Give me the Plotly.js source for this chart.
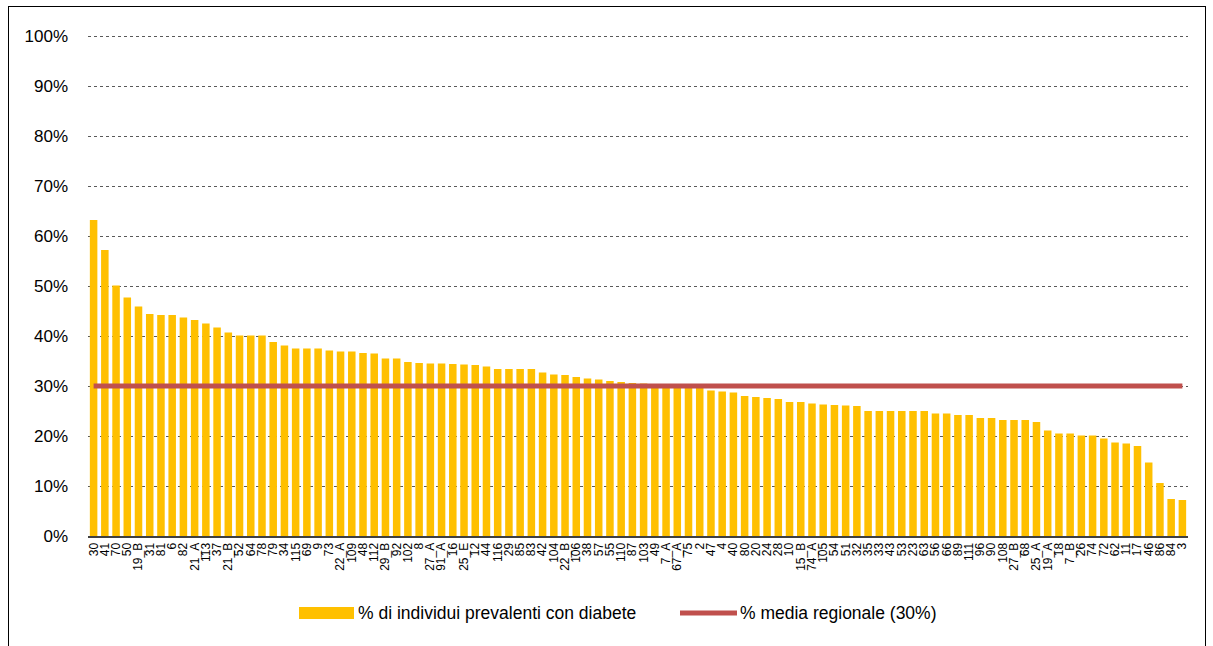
<!DOCTYPE html>
<html>
<head>
<meta charset="utf-8">
<script src="https://cdn.plot.ly/plotly-3.0.1.min.js"></script>
<style>
  html, body { margin: 0; padding: 0; background: #fff; }
  #chart { width: 1213px; height: 646px; }
  #frame { position: absolute; left: 8px; top: 6px; width: 1196px; height: 660px;
           border: 1px solid #000; pointer-events: none; }
</style>
</head>
<body>
<div id="chart"></div>
<div id="frame"></div>
<script>
const distretti = ["30","41","70","50","19_B","31","81","6","82","21_A",
  "113","37","21_B","52","64","78","79","34","115","69",
  "9","73","22_A","109","48","112","29_B","92","102","8",
  "27_A","91_A","16","25_E","12","44","116","29","85","83",
  "42","104","22_B","106","38","57","55","110","87","103",
  "49","7_A","67_A","75","2","47","4","40","80","20",
  "24","28","10","15_B","74_A","105","54","51","32","35",
  "33","43","53","23","63","56","66","89","111","96",
  "90","108","27_B","68","25_A","19_A","18","7_B","26","74",
  "72","62","11","17","46","86","84","3"];

const prevalenzaDiabete = [63.2,57.2,50.1,47.7,45.9,44.4,44.2,44.2,43.7,43.2,
  42.5,41.7,40.7,40.1,40.1,40.1,38.8,38.1,37.5,37.5,
  37.5,37.1,36.9,36.9,36.6,36.5,35.5,35.5,34.8,34.6,
  34.5,34.5,34.4,34.3,34.2,33.9,33.4,33.4,33.4,33.4,
  32.7,32.3,32.2,31.8,31.5,31.3,31.0,30.8,30.6,30.5,
  30.4,30.2,30.1,30.0,29.8,29.1,28.9,28.7,28.0,27.8,
  27.6,27.4,26.8,26.8,26.5,26.3,26.2,26.1,26.0,25.0,
  25.0,25.0,25.0,25.0,25.0,24.5,24.5,24.2,24.2,23.6,
  23.6,23.2,23.2,23.2,22.8,21.1,20.5,20.5,20.1,20.1,
  19.5,18.7,18.5,18.0,14.7,10.6,7.4,7.2];

const mediaRegionale = 30;

const yTickVals = [0,10,20,30,40,50,60,70,80,90,100];
const yTickText = ["0%","10%","20%","30%","40%","50%","60%","70%","80%","90%","100%"];

const legendBar = "% di individui prevalenti con diabete";
const legendLine = "% media regionale (30%)";

const xIdx = distretti.map((d, i) => i);

const FONT = '"Liberation Sans", Arial, sans-serif';

const traces = [
  {
    type: 'bar',
    x: xIdx,
    y: prevalenzaDiabete.map(v => v / 100),
    marker: { color: '#FFC000' },
    name: legendBar,
    showlegend: false,
    hoverinfo: 'skip'
  },
  {
    type: 'scatter',
    mode: 'lines',
    x: xIdx,
    y: distretti.map(() => mediaRegionale / 100),
    line: { color: '#C0504D', width: 5 },
    name: legendLine,
    showlegend: false,
    hoverinfo: 'skip'
  }
];

const YMAX = 1.01;
const TOP = 31, BOT = 110, H = 646, PH = H - TOP - BOT;
const py = y => (H - BOT - y) / PH;
const px = x => (x - 88) / 1100;

const layout = {
  width: 1213,
  height: 646,
  margin: { l: 88, r: 25, t: TOP, b: BOT },
  paper_bgcolor: '#ffffff',
  plot_bgcolor: '#ffffff',
  font: { family: FONT, color: '#000', size: 16 },
  bargap: 0.33,
  showlegend: false,
  xaxis: {
    range: [-0.5, distretti.length - 0.5],
    tickmode: 'array',
    tickvals: xIdx,
    ticktext: distretti,
    tickangle: -90,
    tickfont: { family: FONT, size: 12, color: '#000' },
    showgrid: false,
    zeroline: false,
    showline: true,
    linecolor: '#404040',
    linewidth: 2,
    ticks: '',
    fixedrange: true
  },
  yaxis: {
    range: [0, YMAX],
    tickmode: 'array',
    tickvals: yTickVals.map(v => v / 100),
    ticktext: yTickText,
    tickfont: { family: FONT, size: 17, color: '#000' },
    showgrid: true,
    gridcolor: '#595959',
    gridwidth: 1,
    griddash: 'dot',
    zeroline: false,
    showline: false,
    ticks: '',
    ticklabelstandoff: 19,
    fixedrange: true
  },
  shapes: [
    { type: 'rect', xref: 'paper', yref: 'paper',
      x0: px(299), x1: px(354),
      y0: py(619), y1: py(607),
      fillcolor: '#FFC000', line: { width: 0 } },
    { type: 'line', xref: 'paper', yref: 'paper',
      x0: px(680), x1: px(737),
      y0: py(613), y1: py(613),
      line: { color: '#C0504D', width: 5 } }
  ],
  annotations: [
    { xref: 'paper', yref: 'paper', x: px(356), y: py(613),
      xanchor: 'left', yanchor: 'middle', showarrow: false, text: legendBar,
      font: { family: FONT, size: 17.5, color: '#000' } },
    { xref: 'paper', yref: 'paper', x: px(738), y: py(613),
      xanchor: 'left', yanchor: 'middle', showarrow: false, text: legendLine,
      font: { family: FONT, size: 17.5, color: '#000' } }
  ]
};

Plotly.newPlot('chart', traces, layout, { staticPlot: true, displayModeBar: false });
</script>
</body>
</html>
